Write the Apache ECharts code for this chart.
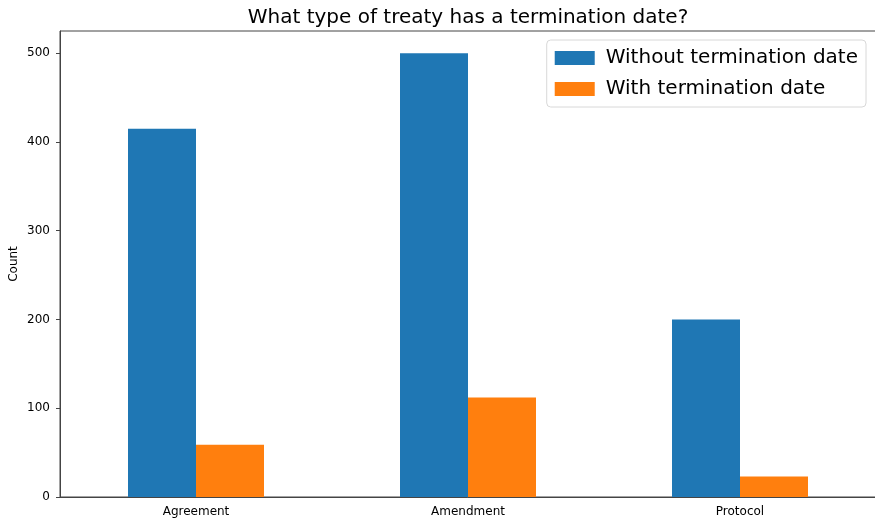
<!DOCTYPE html>
<html>
<head>
<meta charset="utf-8">
<script src="https://cdn.jsdelivr.net/npm/echarts@6/dist/echarts.min.js"></script>
<style>
  html, body { margin: 0; padding: 0; background: #fff; }
  #chart { width: 875px; height: 519px; }
</style>
</head>
<body>
<div id="chart"></div>
<script>
// data
var categories = ['Agreement', 'Amendment', 'Protocol'];
var withoutDate = [415, 500, 200];
var withDate = [59, 112, 23];
var yTicks = [0, 100, 200, 300, 400, 500];

var chart = echarts.init(document.getElementById('chart'));
var font = 'DejaVu Sans';
var option = {
    animation: false,
    title: {
        text: 'What type of treaty has a termination date?',
        left: 463,
        top: 3,
        textAlign: 'center',
        textStyle: { fontFamily: font, fontSize: 20, fontWeight: 'normal', color: '#000' }
    },
    legend: {
        orient: 'vertical',
        right: 9,
        top: 40,
        icon: 'rect',
        itemWidth: 40,
        itemHeight: 14,
        itemGap: 11,
        padding: [8, 8, 8, 8],
        backgroundColor: '#fff',
        borderColor: '#d8d8d8',
        borderWidth: 1,
        borderRadius: 4,
        textStyle: { fontFamily: font, fontSize: 20, color: '#000', padding: [0, 0, 0, 6] },
        data: ['Without termination date', 'With termination date']
    },
    grid: {
        left: 60, right: -1, top: 31, bottom: 22,
        outerBoundsMode: 'none',
        containLabel: false,
        show: true, borderColor: '#444', borderWidth: 1
    },
    xAxis: {
        type: 'category',
        data: categories,
        axisLine: { lineStyle: { color: '#444' } },
        axisTick: { alignWithLabel: true, length: 4, lineStyle: { color: '#444' } },
        axisLabel: { fontFamily: font, fontSize: 12, color: '#000', margin: 9 }
    },
    yAxis: {
        type: 'value',
        min: 0,
        max: 525,
        interval: 100,
        name: 'Count',
        nameLocation: 'middle',
        nameGap: 40,
        nameMoveOverlap: false,
        nameTextStyle: { fontFamily: font, fontSize: 12, color: '#000' },
        splitLine: { show: false },
        axisLine: { show: true, lineStyle: { color: '#444' } },
        axisTick: { show: true, length: 4, customValues: yTicks, lineStyle: { color: '#444' } },
        axisLabel: { fontFamily: font, fontSize: 12, color: '#000', margin: 10, customValues: yTicks }
    },
    series: [
        {
            name: 'Without termination date',
            type: 'bar',
            data: withoutDate,
            barWidth: 68,
            barGap: '0%',
            itemStyle: { color: '#1f77b4' }
        },
        {
            name: 'With termination date',
            type: 'bar',
            data: withDate,
            barWidth: 68,
            itemStyle: { color: '#ff7f0e' }
        }
    ]
};
chart.setOption(option);
</script>
</body>
</html>
